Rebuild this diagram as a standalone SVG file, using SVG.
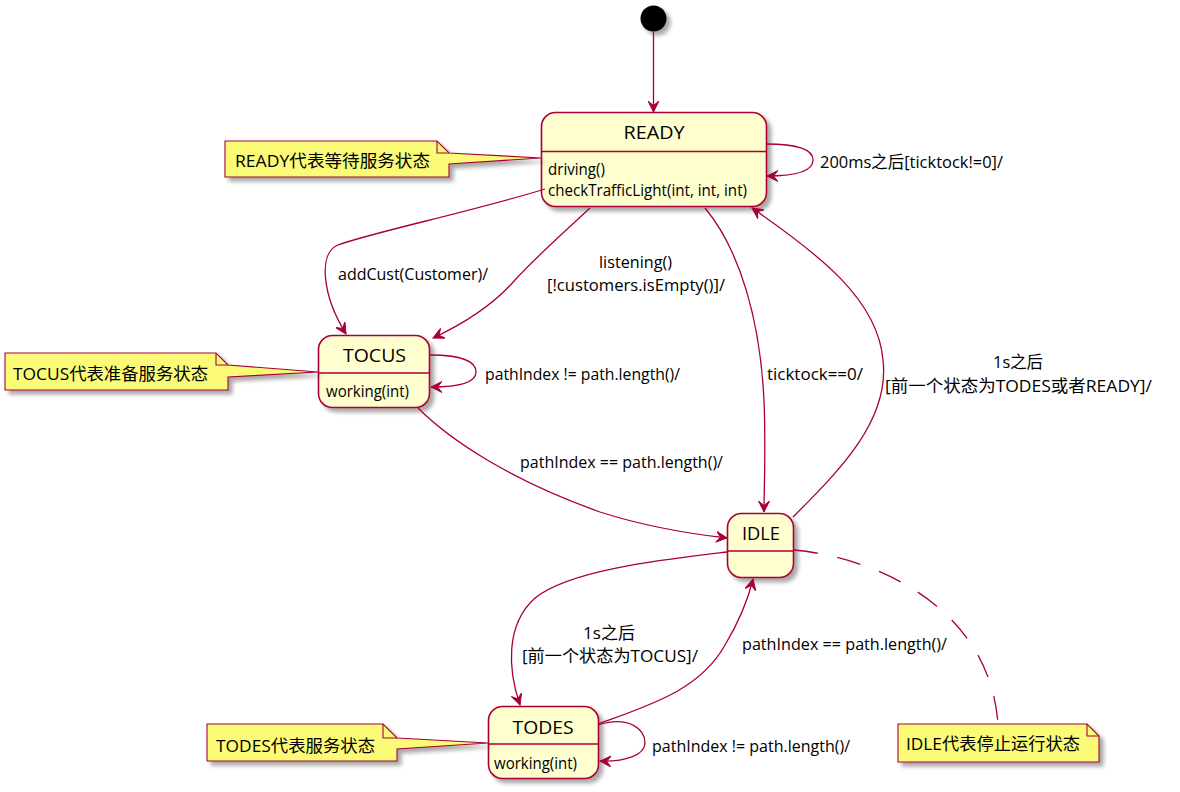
<svg xmlns="http://www.w3.org/2000/svg" width="1180" height="792" viewBox="0 0 1180 792">
<style>
.node{fill:#FEFECE;stroke:#A80036;stroke-width:1.6;filter:url(#sh)}
.div{stroke:#A80036;stroke-width:1.6}
.note{fill:#FBFB77;stroke:#A80036;stroke-width:1.1;filter:url(#sh)}
.fold{fill:none;stroke:#A80036;stroke-width:1.1}
.edge{fill:none;stroke:#A80036;stroke-width:1.3;marker-end:url(#ah)}
.dash{fill:none;stroke:#A80036;stroke-width:1.3;stroke-dasharray:24,20}
text{font-family:"Open Sans","Noto Sans CJK SC",sans-serif;fill:#000}
.title{font-size:19px;text-anchor:middle}
.body{font-size:16px}
.lbl{font-size:16.5px}
.ntxt{font-size:17px}
</style>
<defs>
<filter id="sh" x="-20%" y="-20%" width="150%" height="150%">
<feGaussianBlur in="SourceAlpha" stdDeviation="2"/>
<feOffset dx="4" dy="4" result="b"/>
<feComponentTransfer><feFuncA type="linear" slope="0.35"/></feComponentTransfer>
<feMerge><feMergeNode/><feMergeNode in="SourceGraphic"/></feMerge>
</filter>
<marker id="ah" markerUnits="userSpaceOnUse" markerWidth="12" markerHeight="12" refX="11" refY="5.5" orient="auto" viewBox="0 0 12 11">
<path d="M11,5.5 L0,0 L4.5,5.5 L0,11 Z" fill="#A80036" stroke="#A80036" stroke-width="1"/>
</marker>
</defs>

<g id="start">
<circle cx="653.5" cy="18.5" r="13" fill="#000" filter="url(#sh)"/>
</g>

<g id="READY">
<rect class="node" x="541.5" y="112.5" width="225" height="94" rx="14"/>
<line class="div" x1="541.5" y1="151.5" x2="766.5" y2="151.5"/>
<text class="title" x="654" y="139" textLength="61" lengthAdjust="spacingAndGlyphs">READY</text>
<text class="body" x="548" y="175" textLength="57" lengthAdjust="spacingAndGlyphs">driving()</text>
<text class="body" x="548" y="196" textLength="199" lengthAdjust="spacingAndGlyphs">checkTrafficLight(int, int, int)</text>
</g>

<g id="TOCUS">
<rect class="node" x="318.5" y="335.5" width="111" height="72" rx="14"/>
<line class="div" x1="318.5" y1="373" x2="429.5" y2="373"/>
<text class="title" x="374.5" y="362" textLength="63" lengthAdjust="spacingAndGlyphs">TOCUS</text>
<text class="body" x="326" y="397" textLength="83" lengthAdjust="spacingAndGlyphs">working(int)</text>
</g>

<g id="IDLE">
<rect class="node" x="727.5" y="513.5" width="66" height="64" rx="14"/>
<line class="div" x1="727.5" y1="551" x2="793.5" y2="551"/>
<text class="title" x="761" y="540" textLength="38" lengthAdjust="spacingAndGlyphs">IDLE</text>
</g>

<g id="TODES">
<rect class="node" x="488.5" y="706.5" width="110" height="72" rx="14"/>
<line class="div" x1="488.5" y1="744" x2="598.5" y2="744"/>
<text class="title" x="543" y="734" textLength="61" lengthAdjust="spacingAndGlyphs">TODES</text>
<text class="body" x="494" y="769" textLength="83" lengthAdjust="spacingAndGlyphs">working(int)</text>
</g>

<g id="note-READY">
<path class="note" d="M225,141 L437,141 L449,153 L541,158 L449,164 L449,177 L225,177 Z"/>
<path class="fold" d="M437,141 L437,153 L449,153"/>
<text class="ntxt" x="235" y="167" textLength="195" lengthAdjust="spacingAndGlyphs">READY代表等待服务状态</text>
</g>

<g id="note-TOCUS">
<path class="note" d="M5,353 L216,353 L228,365 L318,372 L228,377 L228,390 L5,390 Z"/>
<path class="fold" d="M216,353 L216,365 L228,365"/>
<text class="ntxt" x="13" y="380" textLength="195" lengthAdjust="spacingAndGlyphs">TOCUS代表准备服务状态</text>
</g>

<g id="note-TODES">
<path class="note" d="M207,724 L383,724 L397,738 L488,743 L397,749 L397,761 L207,761 Z"/>
<path class="fold" d="M383,724 L383,738 L397,738"/>
<text class="ntxt" x="216" y="752" textLength="159" lengthAdjust="spacingAndGlyphs">TODES代表服务状态</text>
</g>

<g id="note-IDLE">
<path class="note" d="M898,724 L1087,724 L1099,736 L1099,762 L898,762 Z"/>
<path class="fold" d="M1087,724 L1087,736 L1099,736"/>
<text class="ntxt" x="906" y="750" textLength="174" lengthAdjust="spacingAndGlyphs">IDLE代表停止运行状态</text>
</g>

<g id="connectors">
<path class="edge" d="M653.5,31.5 L653.5,112"/>
<path class="edge" d="M766,144 C800,144 813,150 813,160 C813,172 795,176 767,176"/>
<path class="edge" d="M545,189 C470,212 370,233 338,245 C318,253 322,295 346,334"/>
<path class="edge" d="M590,208 C560,236 535,258 515,280 C495,303 465,323 433,338"/>
<path class="edge" d="M705,208 C740,250 760,320 764,400 C766,450 764,490 764,512"/>
<path class="edge" d="M793,517 C840,470 890,420 883,360 C878,300 820,255 752,208"/>
<path class="edge" d="M430,355 C465,355 476,363 476,372 C476,383 458,387 431,387"/>
<path class="edge" d="M418,408 C450,440 510,480 600,512 C650,528 700,535 727,538"/>
<path class="edge" d="M727,552 C660,560 570,570 535,598 C505,625 508,670 520,705"/>
<path class="edge" d="M598,724 C650,705 700,690 725,645 C740,620 748,600 753,579"/>
<path class="edge" d="M598,725 C630,715 645,730 645,743 C645,755 625,762 600,761"/>
<path class="dash" d="M794,550 C880,558 990,610 998,724"/>
</g>

<g id="labels">
<text class="lbl" x="820" y="168" textLength="183" lengthAdjust="spacingAndGlyphs">200ms之后[ticktock!=0]/</text>
<text class="lbl" x="338" y="280" textLength="150" lengthAdjust="spacingAndGlyphs">addCust(Customer)/</text>
<text class="lbl" x="599" y="268" textLength="73" lengthAdjust="spacingAndGlyphs">listening()</text>
<text class="lbl" x="547" y="291" textLength="178" lengthAdjust="spacingAndGlyphs">[!customers.isEmpty()]/</text>
<text class="lbl" x="767" y="380" textLength="96" lengthAdjust="spacingAndGlyphs">ticktock==0/</text>
<text class="lbl" x="993" y="368" textLength="50" lengthAdjust="spacingAndGlyphs">1s之后</text>
<text class="lbl" x="885" y="392" textLength="267" lengthAdjust="spacingAndGlyphs">[前一个状态为TODES或者READY]/</text>
<text class="lbl" x="485" y="380" textLength="195" lengthAdjust="spacingAndGlyphs">pathIndex != path.length()/</text>
<text class="lbl" x="520" y="468" textLength="203" lengthAdjust="spacingAndGlyphs">pathIndex == path.length()/</text>
<text class="lbl" x="583" y="639" textLength="52" lengthAdjust="spacingAndGlyphs">1s之后</text>
<text class="lbl" x="522" y="662" textLength="176" lengthAdjust="spacingAndGlyphs">[前一个状态为TOCUS]/</text>
<text class="lbl" x="742" y="650" textLength="205" lengthAdjust="spacingAndGlyphs">pathIndex == path.length()/</text>
<text class="lbl" x="652" y="752" textLength="198" lengthAdjust="spacingAndGlyphs">pathIndex != path.length()/</text>
</g>
</svg>
